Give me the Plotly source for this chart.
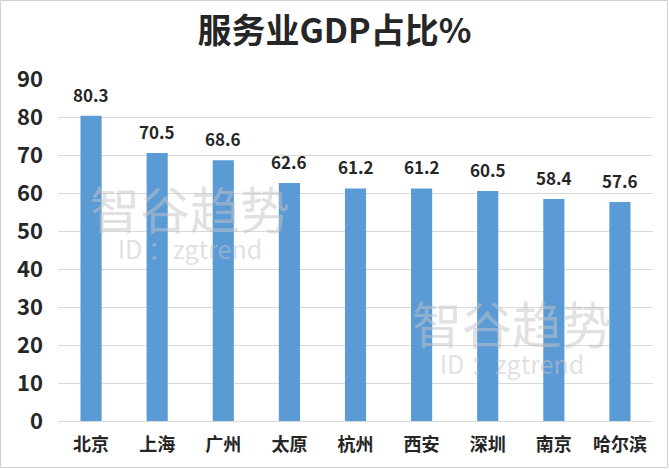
import plotly.graph_objects as go

cities = ["北京", "上海", "广州", "太原", "杭州", "西安", "深圳", "南京", "哈尔滨"]
values = [80.3, 70.5, 68.6, 62.6, 61.2, 61.2, 60.5, 58.4, 57.6]
y_ticks = [0, 10, 20, 30, 40, 50, 60, 70, 80, 90]

W, H = 669, 469
ml, mr, mt, mb = 58, 16, 79, 48
pw, ph = W - ml - mr, H - mt - mb

font_family = "Noto Sans CJK SC, Microsoft YaHei, sans-serif"

fig = go.Figure(go.Bar(
    x=cities, y=values,
    marker=dict(color="#5B9BD5", line=dict(width=0)),
    hoverinfo="x+y",
))

def px_x(p):
    return (p - ml) / pw

def px_y(p):
    return (H - mb - p) / ph

annotations = []
# data labels
for c, v in zip(cities, values):
    annotations.append(dict(x=c, y=v, xref="x", yref="y", text=f"{v:.1f}",
                            showarrow=False, xanchor="center", yanchor="bottom", yshift=7,
                            font=dict(family=font_family, size=17, color="#262626", weight="bold")))
# watermark (one text block each: name + ID)
wm_color = "rgba(195,195,195,0.5)"
wm_text = ("<span style='font-size:50px'>智谷趋势</span><br>"
           "<span style='font-size:25px'>ID ：zgtrend</span>")
for (cx, cy) in [(190, 218), (512, 333)]:
    annotations.append(dict(x=px_x(cx), y=px_y(cy), xref="paper", yref="paper",
                            xanchor="center", yanchor="middle", align="center",
                            text=wm_text, showarrow=False,
                            font=dict(family="Noto Sans CJK SC", size=23, color=wm_color)))

fig.update_layout(
    template="none",
    width=W, height=H,
    margin=dict(l=ml, r=mr, t=mt, b=mb, autoexpand=False),
    paper_bgcolor="white", plot_bgcolor="white",
    bargap=0.68,
    showlegend=False,
    title=dict(text="服务业GDP占比%", x=0.5, xref="container", xanchor="center",
               y=1 - 31 / H, yanchor="middle",
               font=dict(family=font_family, size=34, color="#262626", weight="bold")),
    xaxis=dict(showgrid=False, showline=True, linecolor="#D9D9D9", linewidth=1,
               ticks="", automargin=False, ticklabelstandoff=7,
               tickfont=dict(family=font_family, size=18, color="#262626", weight="bold")),
    yaxis=dict(range=[0, 90], tickvals=y_ticks, showgrid=True, gridcolor="#D9D9D9",
               gridwidth=1, zeroline=False, showline=False, ticks="", automargin=False,
               ticklabelstandoff=14,
               tickfont=dict(family=font_family, size=22, color="#262626", weight="bold")),
    annotations=annotations,
    shapes=[dict(type="rect", xref="paper", yref="paper",
                 x0=px_x(0.5), x1=px_x(W - 1.5), y0=px_y(H - 1.5), y1=px_y(0.5),
                 line=dict(color="#D0D0D0", width=1), fillcolor="rgba(0,0,0,0)", layer="below")],
)

fig.write_html("out.html", config={"displayModeBar": False},
               post_script="document.body.style.margin='0';document.body.style.overflow='hidden';")
